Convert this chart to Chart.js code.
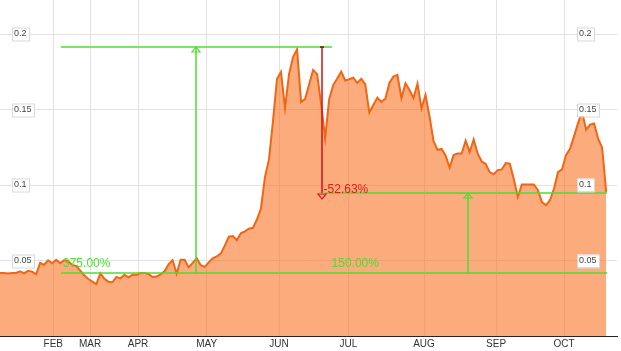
<!DOCTYPE html>
<html>
<head>
<meta charset="utf-8">
<script src="https://cdn.jsdelivr.net/npm/chart.js@4.4.1/dist/chart.umd.min.js"></script>
<style>
    html, body { margin: 0; padding: 0; background: #fff; }
    #wrap { width: 621px; height: 351px; position: relative; }
</style>
</head>
<body>
<div id="wrap"><canvas id="priceChart"></canvas></div>
<script>
// price, one value per point
const prices = [
    0.0417, 0.0417, 0.0415, 0.0417, 0.0418, 0.0429, 0.0415, 0.0432, 0.0427, 0.0409,
    0.0484, 0.0472, 0.0502, 0.0482, 0.0505, 0.0482, 0.0503, 0.0496, 0.0471, 0.0463,
    0.0433, 0.0402, 0.0378, 0.0360, 0.0344, 0.0415, 0.0379, 0.0360, 0.0356, 0.0392,
    0.0382, 0.0406, 0.0389, 0.0406, 0.0406, 0.0417, 0.0417, 0.0411, 0.0391, 0.0394,
    0.0409, 0.0429, 0.0475, 0.0502, 0.0413, 0.0506, 0.0505, 0.0455, 0.0485, 0.0515,
    0.0469, 0.0458, 0.0488, 0.0515, 0.0528, 0.0546, 0.0599, 0.0658, 0.0663, 0.0635,
    0.0681, 0.0694, 0.0712, 0.0717, 0.0772, 0.0844, 0.1053, 0.1169, 0.1424, 0.1703,
    0.1750, 0.1511, 0.1736, 0.1849, 0.1900, 0.1552, 0.1570, 0.1667, 0.1764, 0.1736,
    0.1537, 0.1311, 0.1570, 0.1663, 0.1706, 0.1752, 0.1694, 0.1702, 0.1712, 0.1677,
    0.1704, 0.1667, 0.1481, 0.1531, 0.1579, 0.1552, 0.1573, 0.1677, 0.1720, 0.1730,
    0.1577, 0.1675, 0.1630, 0.1577, 0.1673, 0.1509, 0.1597, 0.1455, 0.1292, 0.1234,
    0.1240, 0.1197, 0.1116, 0.1199, 0.1210, 0.1210, 0.1295, 0.1219, 0.1302, 0.1208,
    0.1157, 0.1141, 0.1085, 0.1073, 0.1099, 0.1104, 0.1146, 0.1142, 0.1039, 0.0922,
    0.1004, 0.1004, 0.1004, 0.1004, 0.0966, 0.0887, 0.0867, 0.0900, 0.0976, 0.1086,
    0.1104, 0.1199, 0.1240, 0.1325, 0.1411, 0.1486, 0.1367, 0.1401, 0.1409, 0.1308,
    0.1248, 0.0955
];

// month labels and where each month starts (point index)
const monthLabels = ["FEB", "MAR", "APR", "MAY", "JUN", "JUL", "AUG", "SEP", "OCT"];
const monthPos = [13.28, 22.42, 34.38, 51.49, 69.51, 86.77, 105.63, 123.57, 140.51];

const yTicks = [0.05, 0.1, 0.15, 0.2];

// measuring lines: low / high / last price levels
const lowPrice = 0.0418;
const highPrice = 0.1915;
const lastPrice = 0.0951;
const measureTexts = ["375.00%", "150.00%", "-52.63%"];

const FONT = "'Liberation Sans', Arial, sans-serif";
const GREEN = "rgb(78,222,50)";
const RED = "rgb(222,28,28)";

function line(ctx, x1, y1, x2, y2, color) {
    ctx.strokeStyle = color;
    ctx.lineWidth = 1.5;
    ctx.beginPath();
    ctx.moveTo(x1, y1);
    ctx.lineTo(x2, y2);
    ctx.stroke();
}

function triangle(ctx, cx, tipY, dir, color) {
    // open arrow head, dir -1 = up, 1 = down
    ctx.strokeStyle = color;
    ctx.lineWidth = 1.2;
    ctx.beginPath();
    ctx.moveTo(cx, tipY);
    ctx.lineTo(cx - 4, tipY - dir * 5);
    ctx.lineTo(cx + 4, tipY - dir * 5);
    ctx.closePath();
    ctx.stroke();
}

const overlay = {
    id: "overlay",
    afterDatasetsDraw(chart) {
        const ctx = chart.ctx;
        const x = chart.scales.x;
        const y = chart.scales.y;
        const yLow = Math.round(y.getPixelForValue(lowPrice));
        const yHigh = Math.round(y.getPixelForValue(highPrice));
        const yLast = Math.round(y.getPixelForValue(lastPrice));
        const px = v => Math.round(x.getPixelForValue(v));

        ctx.save();
        // green: low -> high
        line(ctx, px(15.2), yLow, px(151.2), yLow, GREEN);
        line(ctx, px(15.2), yHigh, px(82.6), yHigh, GREEN);
        line(ctx, px(48.8), yLow, px(48.8), yHigh, GREEN);
        triangle(ctx, px(48.8), yHigh, -1, GREEN);
        // green: low -> last
        line(ctx, px(81.0), yLast, px(151.2), yLast, GREEN);
        line(ctx, px(116.7), yLow, px(116.7), yLast, GREEN);
        triangle(ctx, px(116.7), yLast, -1, GREEN);
        // red: high -> last
        line(ctx, px(80.3), yHigh, px(80.3), yLast, "rgb(210,20,20)");
        line(ctx, px(80.3) - 2, yHigh, px(80.3) + 2, yHigh, "rgb(120,20,10)");
        triangle(ctx, px(80.3), yLast + 6, 1, "rgb(210,20,20)");

        ctx.font = "12px " + FONT;
        ctx.textBaseline = "alphabetic";
        ctx.textAlign = "left";
        ctx.fillStyle = GREEN;
        ctx.fillText(measureTexts[0], x.getPixelForValue(15.7), yLow - 6);
        ctx.fillText(measureTexts[1], x.getPixelForValue(82.6), yLow - 6);
        ctx.fillStyle = RED;
        ctx.fillText(measureTexts[2], x.getPixelForValue(80.6), yLast);

        // price labels in boxes, both sides
        ctx.font = "9px " + FONT;
        ctx.textBaseline = "middle";
        yTicks.forEach((v) => {
            const py = Math.round(y.getPixelForValue(v));
            const txt = String(v);
            const w = Math.round(ctx.measureText(txt).width) + 4;
            [12, 577].forEach((lx) => {
                ctx.fillStyle = "#fff";
                ctx.fillRect(lx, py - 6.5, w, 13);
                ctx.strokeStyle = "#d9d9d9";
                ctx.lineWidth = 1;
                ctx.strokeRect(lx + 0.5, py - 6, w, 13);
                ctx.fillStyle = "#444";
                ctx.fillText(txt, lx + 2, py);
            });
        });
        ctx.restore();
    }
};

const ctx = document.getElementById("priceChart").getContext("2d");
new Chart(ctx, {
    type: "line",
    data: {
        datasets: [{
            data: prices.map((v, i) => ({ x: i, y: v })),
            borderColor: "rgb(240,102,20)",
            borderWidth: 2,
            backgroundColor: "rgba(250,110,30,0.575)",
            fill: "origin",
            pointRadius: 0,
            tension: 0,
        }]
    },
    options: {
        responsive: true,
        maintainAspectRatio: false,
        animation: false,
        devicePixelRatio: 1,
        layout: { padding: { left: 0, right: 4, top: 0, bottom: 0 } },
        plugins: {
            legend: { display: false },
            tooltip: { enabled: false },
        },
        scales: {
            x: {
                type: "linear",
                min: 0,
                max: 153.7,
                afterBuildTicks: (s) => { s.ticks = monthPos.map((v) => ({ value: v })); },
                afterFit: (s) => { s.height = 15; },
                ticks: {
                    autoSkip: false,
                    maxRotation: 0,
                    padding: 2,
                    color: "#333",
                    font: { size: 10, family: FONT },
                    callback: (v, i) => monthLabels[i],
                },
                grid: { color: "#e2e2e2", drawTicks: false },
                border: { display: true, color: "#222", width: 1 },
            },
            y: {
                min: 0,
                max: 0.2227,
                afterBuildTicks: (s) => { s.ticks = yTicks.map((v) => ({ value: v })); },
                afterFit: (s) => { s.width = 0; },
                ticks: { display: false },
                grid: { color: "#e2e2e2", drawTicks: false },
                border: { display: false },
            },
        },
    },
    plugins: [overlay],
});
</script>
</body>
</html>
